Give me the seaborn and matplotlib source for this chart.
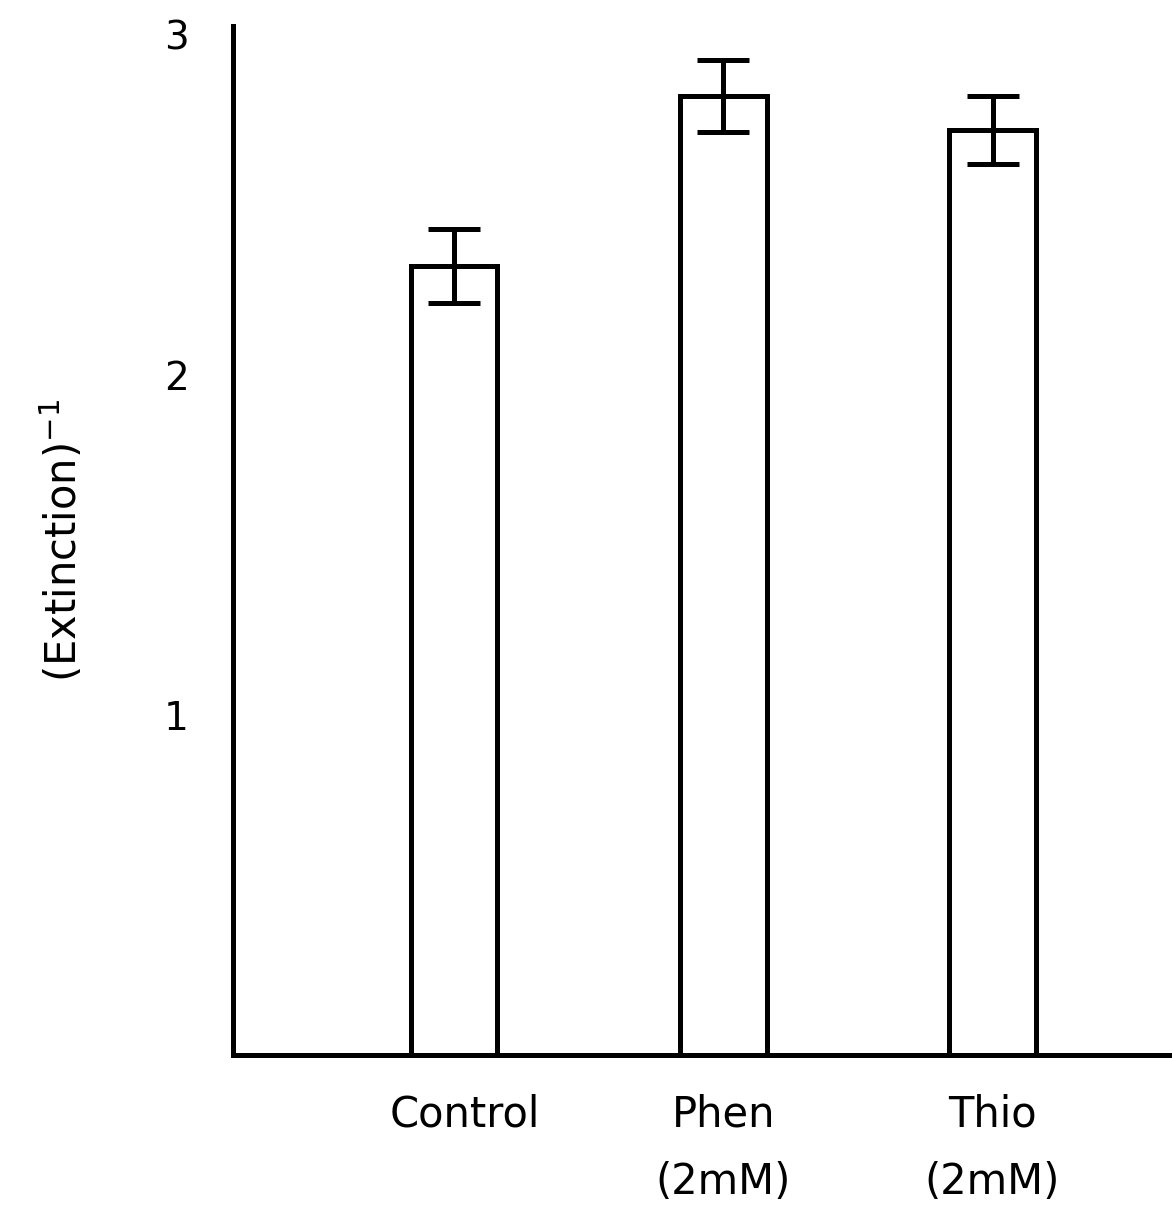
import matplotlib
matplotlib.use("Agg")
import matplotlib.pyplot as plt
import matplotlib.transforms as mtransforms
import seaborn as sns
import pandas as pd

# Reciprocal extinction for each treatment, with error half-widths
categories = ["Control", "Phen\n(2mM)", "Thio\n(2mM)"]
values = [2.32, 2.82, 2.72]
errors = [0.11, 0.105, 0.10]
y_ticks = [1, 2, 3]

sns.set_theme(style="white")
plt.rcParams["font.family"] = ["DejaVu Sans"]

df = pd.DataFrame({"treatment": categories, "value": values})

fig = plt.figure(figsize=(11.72, 12.06), dpi=100)
ax = fig.add_axes([233 / 1172, (1206 - 1055) / 1206, 1 - 233 / 1172, (1055 - 26) / 1206])

sns.barplot(data=df, x="treatment", y="value", ax=ax, width=0.32,
            color="white", edgecolor="black", linewidth=3.6, errorbar=None)
for patch in ax.patches:
    patch.set_facecolor("white")
    patch.set_edgecolor("black")
    patch.set_linewidth(3.6)
    patch.set_joinstyle("miter")

ax.errorbar(range(len(values)), values, yerr=errors, fmt="none", ecolor="black",
            elinewidth=3.6, capsize=19, capthick=3.6)

ax.set_xlim(-0.823, 2.667)
ax.set_ylim(0, 3.026)
ax.set_yticks(y_ticks)
ax.set_yticklabels([str(t) for t in y_ticks])

for side in ["top", "right"]:
    ax.spines[side].set_visible(False)
for side in ["left", "bottom"]:
    ax.spines[side].set_color("black")
    ax.spines[side].set_linewidth(3.6)

ax.tick_params(axis="y", length=0, labelsize=28, colors="black", pad=32)
ax.tick_params(axis="x", length=0, labelsize=30, colors="black", pad=28)
xlabels = ax.get_xticklabels()
for lab in xlabels:
    lab.set_linespacing(1.75)
# the "Control" label sits a little right of its bar
xlabels[0].set_transform(xlabels[0].get_transform() +
                         mtransforms.ScaledTranslation(0.1, 0, fig.dpi_scale_trans))

ax.set_xlabel("")
ax.set_ylabel("(Extinction)$^{-1}$", fontsize=30, labelpad=56, color="black")

fig.savefig("out.png", dpi=100, facecolor="white")
